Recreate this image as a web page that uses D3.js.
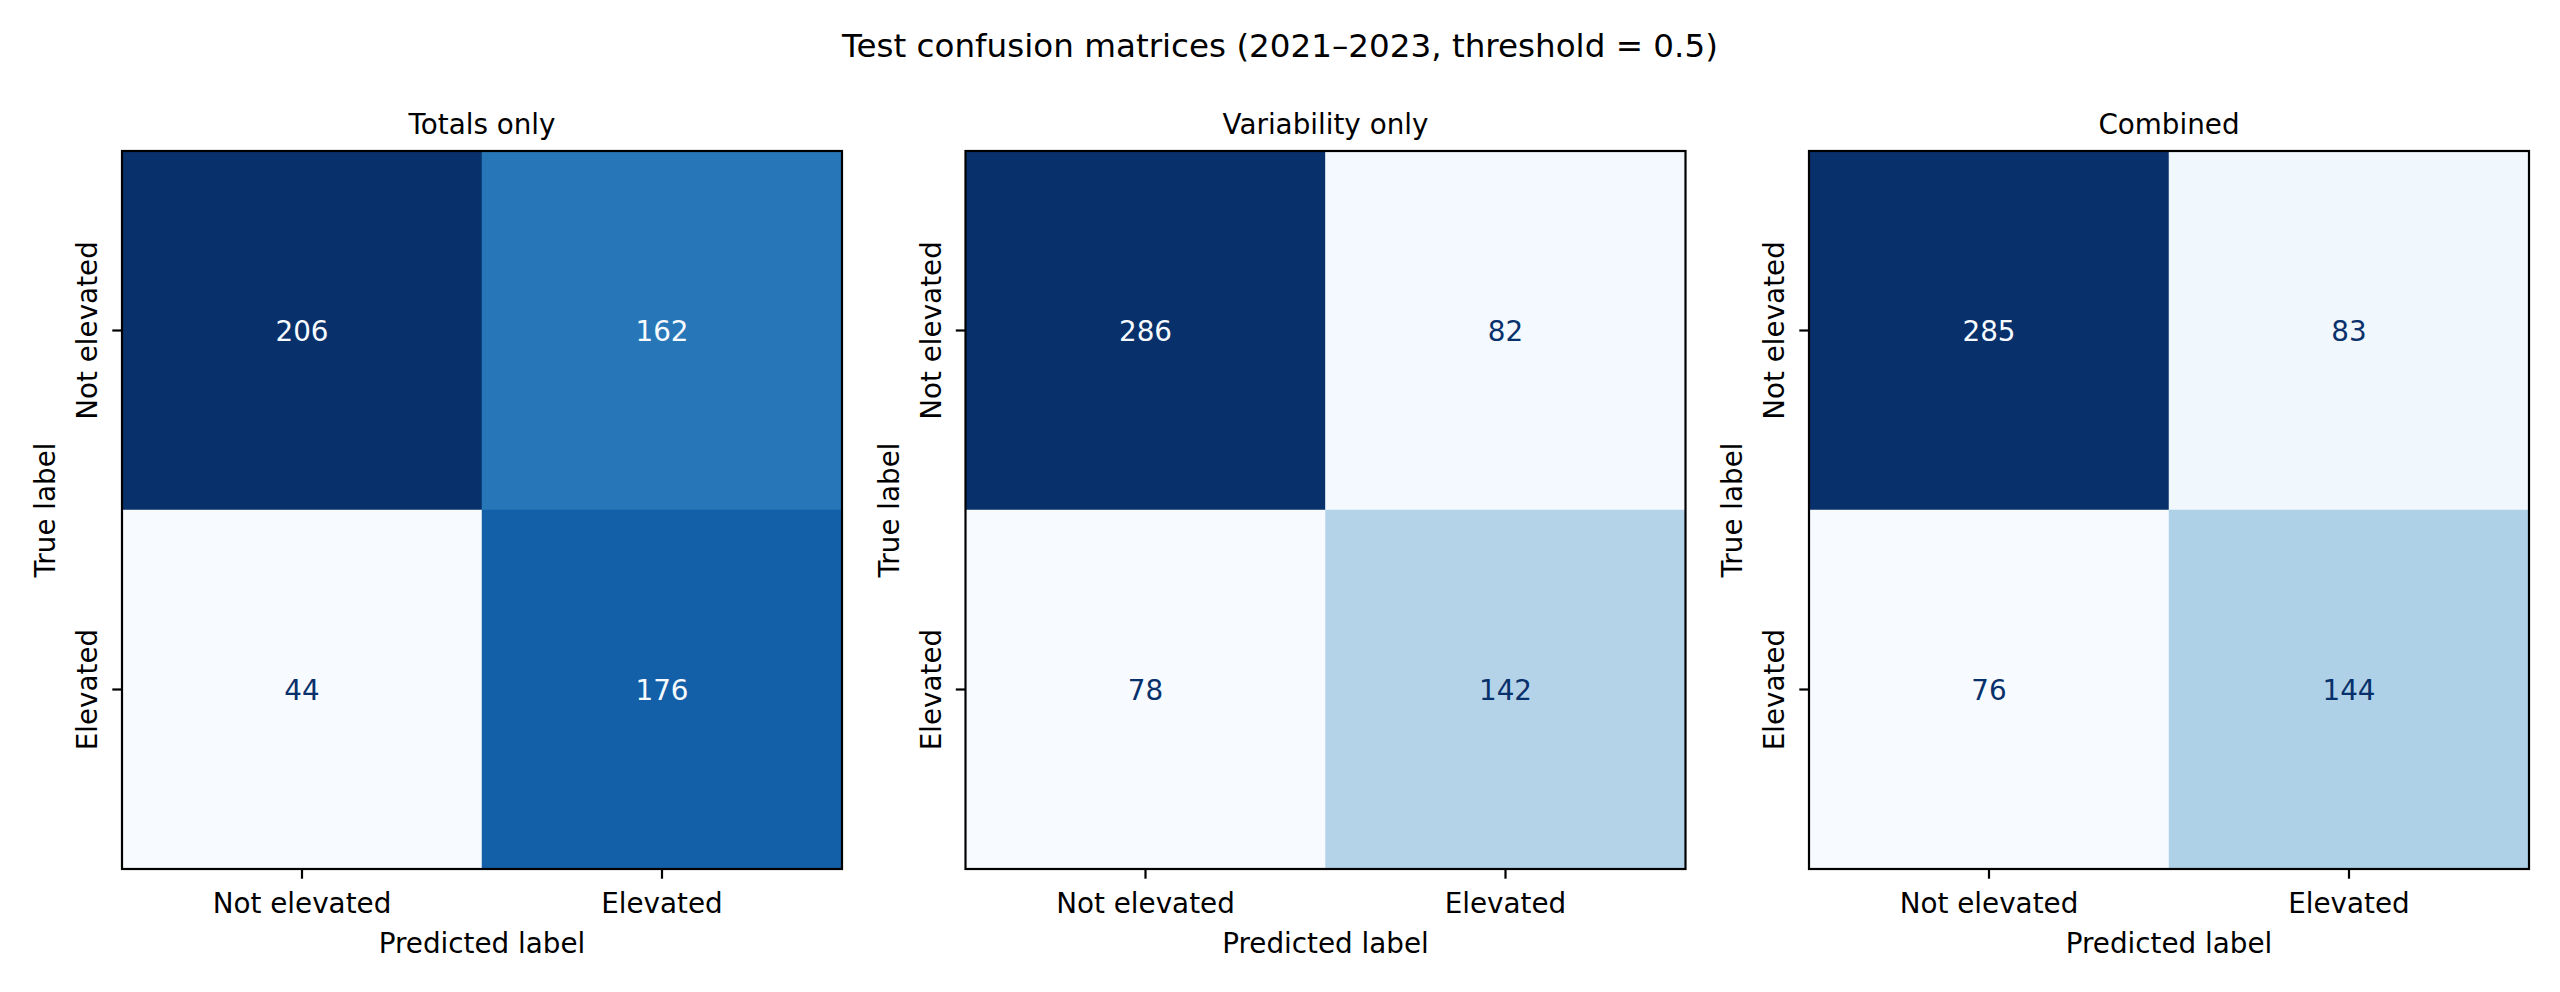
<!DOCTYPE html>
<html>
<head>
<meta charset="utf-8">
<script src="https://cdn.jsdelivr.net/npm/d3@7"></script>
<style>
  body { margin: 0; background: #fff; }
  text { font-family: "DejaVu Sans", sans-serif; fill: #000; }
</style>
</head>
<body>
<svg id="viz-container" width="2560" height="992"></svg>
<script>
// data
var classLabels = ["Not elevated", "Elevated"];
var panelTitles = ["Totals only", "Variability only", "Combined"];
var totalsOnly = [[206, 162], [44, 176]];
var variabilityOnly = [[286, 82], [78, 142]];
var combined = [[285, 83], [76, 144]];
var suptitle = "Test confusion matrices (2021\u20132023, threshold = 0.5)";

var matrices = [totalsOnly, variabilityOnly, combined];

// matplotlib "Blues" stops
var blues = ["#f7fbff", "#deebf7", "#c6dbef", "#9ecae1", "#6baed6",
             "#4292c6", "#2171b5", "#08519c", "#08306b"];

var svg = d3.select("#viz-container");

var fs = 27.8,
    axW = 720,
    axH = 718,
    axTop = 151,
    panelX = d3.scaleLinear().domain([0, 2]).range([122, 1809]);

// SUPTITLE
svg.append("text")
    .attr("x", 1280)
    .attr("y", 57)
    .attr("text-anchor", "middle")
    .style("font-size", "32.6px")
    .text(suptitle);

matrices.forEach(function(m, p) {
  var flat = [];
  m.forEach(function(row, i) {
    row.forEach(function(v, j) { flat.push({row: i, col: j, value: v}); });
  });
  var ext = d3.extent(flat, d => d.value),
      thresh = (ext[0] + ext[1]) / 2;

  var color = d3.scaleSequential(d3.piecewise(d3.interpolateRgb, blues))
      .domain(ext);

  var x = d3.scaleBand().domain(d3.range(2)).range([0, axW]),
      y = d3.scaleBand().domain(d3.range(2)).range([0, axH]);

  var g = svg.append("g")
      .attr("transform", "translate(" + panelX(p) + "," + axTop + ")");

  // CELLS
  g.selectAll("rect.cell")
      .data(flat)
    .enter().append("rect")
      .attr("class", "cell")
      .attr("x", d => x(d.col))
      .attr("y", d => y(d.row))
      .attr("width", x.bandwidth())
      .attr("height", y.bandwidth())
      .style("fill", d => color(d.value))
      .style("stroke", d => color(d.value))
      .style("stroke-width", 0.5);

  // CELL VALUES
  g.selectAll("text.val")
      .data(flat)
    .enter().append("text")
      .attr("class", "val")
      .attr("x", d => x(d.col) + x.bandwidth() / 2)
      .attr("y", d => y(d.row) + y.bandwidth() / 2)
      .attr("dy", "0.36em")
      .attr("text-anchor", "middle")
      .style("font-size", fs + "px")
      .style("fill", d => d.value < thresh ? blues[8] : blues[0])
      .text(d => d.value);

  // AXES
  var xAxis = d3.axisBottom(x)
      .tickFormat(i => classLabels[i])
      .tickSizeInner(9.7)
      .tickSizeOuter(0)
      .tickPadding(11);
  var gx = g.append("g")
      .attr("transform", "translate(0," + axH + ")")
      .call(xAxis);
  gx.select(".domain").remove();
  gx.selectAll(".tick line").style("stroke", "#000").style("stroke-width", 2.2);
  gx.selectAll(".tick text")
      .attr("dy", null)
      .attr("y", 44)
      .style("font-size", fs + "px")
      .style("font-family", "DejaVu Sans");

  var yAxis = d3.axisLeft(y)
      .tickFormat(i => classLabels[i])
      .tickSizeInner(9.7)
      .tickSizeOuter(0);
  var gy = g.append("g").call(yAxis);
  gy.select(".domain").remove();
  gy.selectAll(".tick line").style("stroke", "#000").style("stroke-width", 2.2);
  gy.selectAll(".tick text")
      .attr("transform", "rotate(-90)")
      .attr("x", 0)
      .attr("y", -25)
      .attr("dy", null)
      .attr("text-anchor", "middle")
      .style("font-size", fs + "px")
      .style("font-family", "DejaVu Sans");

  // SPINES
  g.append("rect")
      .attr("width", axW)
      .attr("height", axH)
      .style("fill", "none")
      .style("stroke", "#000")
      .style("stroke-width", 2.2);

  // LABELS
  g.append("text")
      .attr("x", axW / 2)
      .attr("y", -17)
      .attr("text-anchor", "middle")
      .style("font-size", fs + "px")
      .text(panelTitles[p]);

  g.append("text")
      .attr("x", axW / 2)
      .attr("y", axH + 84)
      .attr("text-anchor", "middle")
      .style("font-size", fs + "px")
      .text("Predicted label");

  g.append("text")
      .attr("transform", "translate(-67," + axH / 2 + ") rotate(-90)")
      .attr("text-anchor", "middle")
      .style("font-size", fs + "px")
      .text("True label");
});
</script>
</body>
</html>
